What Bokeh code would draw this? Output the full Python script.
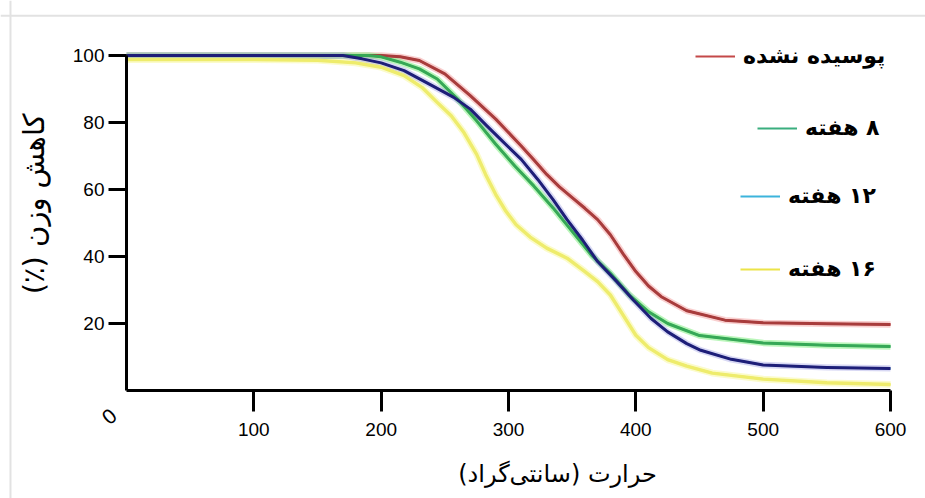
import math
from bokeh.plotting import figure
from bokeh.models import Range1d, Label, Legend, LegendItem, FixedTicker, LinearAxis, Span
from bokeh.core.properties import value
from bokeh.embed import file_html
from bokeh.resources import INLINE

# ---- data (temperature in C, weight %) ----
red_t = [0, 100, 200, 215, 230, 250, 270, 290, 310, 320, 330, 340, 350, 360, 370, 380, 390, 400, 410, 420, 440, 470, 500, 550, 600]
red_w = [100, 100, 100, 99.6, 98.5, 94.5, 88, 81, 73, 68.8, 64.5, 60.8, 57.6, 54.4, 51, 46.5, 40.8, 35.5, 31.2, 28, 23.8, 21, 20.2, 19.9, 19.7]

green_t = [0, 100, 190, 200, 215, 230, 244, 260, 275, 290, 305, 320, 335, 350, 365, 380, 395, 410, 425, 450, 500, 550, 600]
green_w = [100, 100, 100, 99.6, 98, 96, 93, 87, 80.5, 73.5, 67, 61, 54.5, 47.5, 40.5, 35, 28.5, 23.5, 20, 16.4, 14.2, 13.5, 13.1]

blue_t = [0, 100, 170, 185, 200, 218, 240, 257, 270, 283, 295, 310, 323, 335, 346, 358, 370, 385, 398, 412, 425, 440, 451, 475, 500, 550, 600]
blue_w = [100, 100, 100, 99, 97.8, 95.5, 91, 87.5, 84, 79, 74.5, 69, 63, 57, 51, 45, 38.5, 32.5, 27, 21.5, 17.5, 14, 12, 9.3, 7.6, 6.9, 6.6]

yellow_t = [0, 100, 150, 180, 200, 218, 232, 244, 255, 265, 275, 282, 290, 298, 306, 317, 330, 346, 360, 370, 380, 390, 400, 410, 425, 440, 460, 500, 550, 600]
yellow_w = [98.8, 98.8, 98.6, 97.8, 96.5, 94, 90.5, 86, 82, 77, 70.5, 64.5, 58.5, 53.5, 49.5, 45.8, 42.5, 39.5, 35.5, 32.5, 28.5, 22.5, 16.5, 12.8, 9.2, 7.3, 5.2, 3.4, 2.3, 1.8]

RLM = "\u200f"
series_names = ["پوسیده نشده", "۸ هفته", "۱۲ هفته", "۱۶ هفته"]
x_ticks = [100, 200, 300, 400, 500, 600]
y_ticks = [20, 40, 60, 80, 100]
origin_label = "0"
x_title = "حرارت (سانتی\u200cگراد)"
y_title = "کاهش وزن (٪)"

# ---- figure: frame fills the canvas, axes fixed at the data origin ----
p = figure(width=925, height=498, output_backend="svg", toolbar_location=None,
           x_range=Range1d(-98.953, 627.49), y_range=Range1d(-32.239, 116.418),
           x_axis_type=None, y_axis_type=None,
           min_border_left=0, min_border_right=0, min_border_top=0, min_border_bottom=0)
p.grid.visible = False
p.outline_line_color = None
p.background_fill_color = "white"
p.border_fill_color = "white"

# light grey page frame
p.add_layout(Span(location=-91.1, dimension="height", line_color="#e2e2e2", line_width=2))
p.add_layout(Span(location=111.9, dimension="width", line_color="#e2e2e2", line_width=2))

xaxis = LinearAxis(fixed_location=0, bounds=(0, 600), ticker=FixedTicker(ticks=x_ticks))
yaxis = LinearAxis(fixed_location=0, bounds=(0, 100), ticker=FixedTicker(ticks=y_ticks))
for ax in (xaxis, yaxis):
    ax.axis_line_width = 3
    ax.axis_line_color = "black"
    ax.major_tick_line_width = 3
    ax.major_tick_line_color = "black"
    ax.major_tick_in = 0
    ax.minor_tick_in = 0
    ax.minor_tick_out = 0
    ax.major_label_text_font = "Liberation Sans"
    ax.major_label_text_font_size = "19px"
    ax.major_label_text_color = "black"
xaxis.major_tick_out = 21
xaxis.major_label_standoff = 12
yaxis.major_tick_out = 18
yaxis.major_label_standoff = 4
p.add_layout(xaxis, "below")
p.add_layout(yaxis, "left")

# legend swatch colours (hidden under curves) and curve styles
styles = [
    # t, w, legend colour, core colour, halo colour, halo alpha, core width
    (red_t, red_w, "#c44848", "#a83c3c", "#f4a8a8", 0.55, 2.4),
    (green_t, green_w, "#3aae7e", "#36a856", "#8ef08e", 0.6, 2.4),
    (blue_t, blue_w, "#3cb4dc", "#1e1e78", "#9090e0", 0.35, 2.4),
    (yellow_t, yellow_w, "#ece448", "#eeec6c", "#f8f8a8", 0.6, 2.8),
]
draw_order = [3, 0, 1, 2]

swatches = {}
for i in draw_order:
    t, w, lc, cc, hc, ha, cw = styles[i]
    p.line(t, w, line_color=hc, line_width=cw + 4, line_alpha=ha, line_join="round")
for i in draw_order:
    t, w, lc, cc, hc, ha, cw = styles[i]
    swatches[i] = p.line(t, w, line_color=lc, line_width=2, line_join="round")
for i in draw_order:
    t, w, lc, cc, hc, ha, cw = styles[i]
    p.line(t, w, line_color=cc, line_width=cw + 0.6, line_join="round")

legend_locs = [(695, 430), (757, 358), (740, 290), (740, 217)]
for i, name in enumerate(series_names):
    lg = Legend(items=[LegendItem(label=value(RLM + name + RLM), renderers=[swatches[i]])],
                location=legend_locs[i], glyph_width=40, glyph_height=20,
                label_height=20, label_standoff=8, padding=0, margin=0, spacing=0,
                border_line_color=None, background_fill_alpha=0,
                label_text_font="DejaVu Sans", label_text_font_size="22px",
                label_text_font_style="bold", label_text_color="black")
    p.add_layout(lg)

p.add_layout(Label(x=-13.4, y=-7.8, text=origin_label, angle=0.7,
                   text_align="center", text_baseline="middle",
                   text_font="Liberation Sans", text_font_size="21px", text_color="black"))
p.add_layout(Label(x=-73, y=55.7, text=RLM + y_title + RLM, angle=math.pi / 2,
                   text_align="center", text_baseline="middle",
                   text_font="DejaVu Sans", text_font_size="29px", text_color="black"))
p.add_layout(Label(x=338.5, y=-24.8, text=RLM + x_title + RLM,
                   text_align="center", text_baseline="middle",
                   text_font="DejaVu Sans", text_font_size="24px", text_color="black"))

open("out.html", "w").write(file_html(p, INLINE))
